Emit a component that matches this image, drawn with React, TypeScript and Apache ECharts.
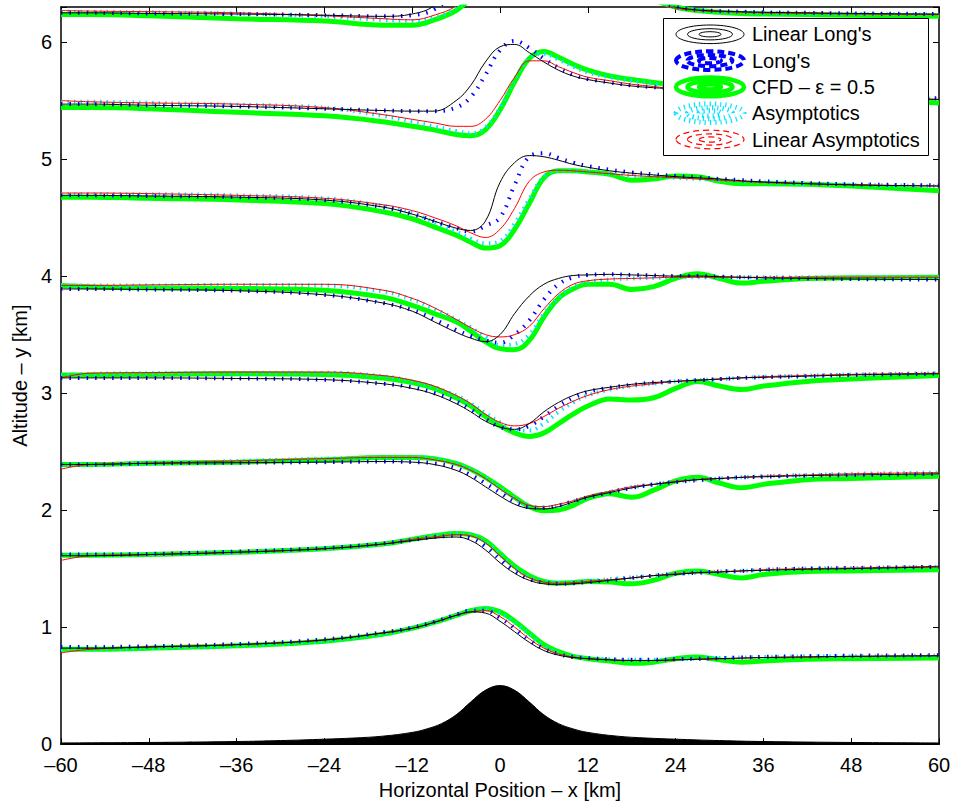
import React, { useEffect, useRef } from "react";
import * as echarts from "echarts";

// Horizontal sample positions (km) shared by all streamlines
const X = [-60, -56, -48, -36, -24, -16, -12, -9, -6, -4, -2, 0, 2, 4, 6, 8, 10, 12, 15, 18, 21, 24, 27, 30, 33, 36, 42, 48, 60];

// Linear Long's (black) — one row per streamline
const LIN_LONGS = [
  [0.82, 0.82, 0.83, 0.85, 0.89, 0.95, 0.99, 1.04, 1.10, 1.13, 1.12, 1.05, 0.96, 0.87, 0.80, 0.76, 0.74, 0.73, 0.72, 0.715, 0.715, 0.72, 0.725, 0.73, 0.735, 0.74, 0.745, 0.75, 0.755],
  [1.61, 1.61, 1.62, 1.64, 1.67, 1.71, 1.74, 1.76, 1.77, 1.74, 1.66, 1.55, 1.46, 1.40, 1.37, 1.365, 1.37, 1.38, 1.40, 1.42, 1.44, 1.45, 1.465, 1.47, 1.48, 1.485, 1.495, 1.50, 1.515],
  [2.39, 2.39, 2.40, 2.405, 2.41, 2.415, 2.41, 2.39, 2.34, 2.28, 2.20, 2.12, 2.05, 2.015, 2.01, 2.03, 2.07, 2.11, 2.15, 2.19, 2.22, 2.24, 2.26, 2.27, 2.28, 2.285, 2.295, 2.30, 2.31],
  [3.13, 3.13, 3.13, 3.125, 3.115, 3.08, 3.04, 2.99, 2.91, 2.84, 2.76, 2.71, 2.69, 2.74, 2.84, 2.92, 2.98, 3.02, 3.05, 3.075, 3.09, 3.10, 3.11, 3.12, 3.13, 3.135, 3.145, 3.155, 3.165],
  [3.89, 3.89, 3.885, 3.875, 3.84, 3.77, 3.70, 3.61, 3.52, 3.47, 3.44, 3.50, 3.68, 3.83, 3.93, 3.98, 4.005, 4.01, 4.015, 4.01, 4.005, 4.0, 4.0, 3.995, 3.99, 3.985, 3.98, 3.975, 3.97],
  [4.69, 4.69, 4.685, 4.675, 4.65, 4.59, 4.53, 4.47, 4.41, 4.39, 4.47, 4.80, 4.97, 5.03, 5.02, 4.99, 4.955, 4.93, 4.90, 4.88, 4.865, 4.85, 4.84, 4.83, 4.815, 4.805, 4.79, 4.78, 4.77],
  [5.47, 5.47, 5.46, 5.45, 5.43, 5.415, 5.41, 5.41, 5.50, 5.63, 5.83, 5.96, 5.98, 5.91, 5.83, 5.76, 5.71, 5.68, 5.65, 5.625, 5.61, 5.60, 5.59, 5.58, 5.57, 5.56, 5.545, 5.53, 5.51],
  [6.25, 6.25, 6.245, 6.24, 6.23, 6.22, 6.24, 6.31, 6.5, 6.65, 6.8, 6.9, 6.95, 6.95, 6.9, 6.85, 6.8, 6.7, 6.6, 6.48, 6.36, 6.30, 6.275, 6.265, 6.26, 6.255, 6.25, 6.245, 6.24],
];

// Long's (blue)
const LONGS = [
  [0.83, 0.83, 0.835, 0.855, 0.895, 0.955, 0.995, 1.045, 1.105, 1.14, 1.14, 1.08, 0.99, 0.89, 0.815, 0.77, 0.745, 0.735, 0.725, 0.72, 0.72, 0.725, 0.73, 0.735, 0.74, 0.745, 0.75, 0.755, 0.76],
  [1.62, 1.62, 1.625, 1.645, 1.675, 1.715, 1.745, 1.77, 1.78, 1.76, 1.69, 1.58, 1.48, 1.41, 1.38, 1.37, 1.375, 1.385, 1.40, 1.42, 1.44, 1.455, 1.465, 1.475, 1.48, 1.49, 1.50, 1.505, 1.515],
  [2.39, 2.39, 2.40, 2.405, 2.41, 2.415, 2.41, 2.40, 2.36, 2.30, 2.23, 2.15, 2.07, 2.025, 2.02, 2.04, 2.075, 2.11, 2.15, 2.19, 2.22, 2.24, 2.255, 2.27, 2.28, 2.285, 2.295, 2.30, 2.31],
  [3.13, 3.13, 3.13, 3.125, 3.115, 3.08, 3.05, 3.00, 2.93, 2.86, 2.78, 2.71, 2.69, 2.72, 2.80, 2.89, 2.96, 3.01, 3.045, 3.07, 3.09, 3.10, 3.11, 3.12, 3.13, 3.135, 3.145, 3.155, 3.165],
  [3.89, 3.89, 3.885, 3.875, 3.84, 3.77, 3.71, 3.63, 3.54, 3.49, 3.45, 3.43, 3.50, 3.62, 3.80, 3.93, 3.99, 4.01, 4.015, 4.01, 4.005, 4.0, 4.0, 3.995, 3.99, 3.985, 3.98, 3.975, 3.97],
  [4.69, 4.69, 4.685, 4.675, 4.65, 4.59, 4.53, 4.47, 4.41, 4.38, 4.43, 4.50, 4.78, 5.02, 5.05, 5.01, 4.97, 4.94, 4.91, 4.885, 4.87, 4.855, 4.845, 4.83, 4.82, 4.81, 4.795, 4.785, 4.775],
  [5.47, 5.47, 5.46, 5.45, 5.43, 5.415, 5.41, 5.41, 5.44, 5.53, 5.72, 5.93, 6.01, 5.95, 5.86, 5.78, 5.72, 5.685, 5.655, 5.63, 5.615, 5.60, 5.59, 5.58, 5.57, 5.56, 5.545, 5.535, 5.52],
  [6.25, 6.25, 6.245, 6.24, 6.23, 6.22, 6.23, 6.28, 6.45, 6.6, 6.75, 6.9, 6.95, 6.95, 6.9, 6.85, 6.8, 6.7, 6.6, 6.45, 6.36, 6.30, 6.275, 6.265, 6.26, 6.255, 6.25, 6.245, 6.24],
];

// CFD – ε = 0.5 (green)
const CFD = [
  [0.81, 0.81, 0.82, 0.84, 0.88, 0.94, 0.99, 1.04, 1.10, 1.14, 1.16, 1.13, 1.05, 0.95, 0.85, 0.79, 0.75, 0.73, 0.71, 0.69, 0.70, 0.73, 0.745, 0.72, 0.70, 0.71, 0.725, 0.73, 0.735],
  [1.615, 1.615, 1.62, 1.64, 1.67, 1.71, 1.75, 1.78, 1.80, 1.79, 1.74, 1.63, 1.52, 1.44, 1.39, 1.375, 1.38, 1.39, 1.385, 1.37, 1.40, 1.46, 1.48, 1.45, 1.42, 1.45, 1.475, 1.48, 1.49],
  [2.39, 2.39, 2.40, 2.41, 2.43, 2.45, 2.45, 2.44, 2.40, 2.35, 2.28, 2.20, 2.11, 2.03, 1.995, 2.00, 2.04, 2.10, 2.14, 2.11, 2.17, 2.25, 2.28, 2.23, 2.19, 2.22, 2.26, 2.27, 2.29],
  [3.155, 3.155, 3.16, 3.165, 3.16, 3.13, 3.09, 3.04, 2.96, 2.89, 2.80, 2.72, 2.66, 2.63, 2.66, 2.74, 2.82, 2.89, 2.95, 2.94, 2.96, 3.04, 3.10, 3.06, 3.03, 3.06, 3.10, 3.12, 3.15],
  [3.92, 3.91, 3.90, 3.895, 3.88, 3.82, 3.75, 3.68, 3.61, 3.53, 3.44, 3.38, 3.37, 3.45, 3.65, 3.81, 3.89, 3.93, 3.93, 3.885, 3.91, 3.98, 4.02, 3.98, 3.94, 3.955, 3.98, 3.985, 3.99],
  [4.675, 4.675, 4.665, 4.65, 4.62, 4.55, 4.49, 4.42, 4.35, 4.29, 4.24, 4.26, 4.40, 4.62, 4.84, 4.90, 4.90, 4.89, 4.87, 4.82, 4.83, 4.855, 4.85, 4.81, 4.79, 4.79, 4.785, 4.77, 4.73],
  [5.44, 5.44, 5.43, 5.40, 5.37, 5.32, 5.28, 5.25, 5.21, 5.20, 5.25, 5.42, 5.66, 5.86, 5.92, 5.87, 5.81, 5.76, 5.71, 5.68, 5.655, 5.635, 5.62, 5.60, 5.585, 5.57, 5.55, 5.52, 5.48],
  [6.235, 6.235, 6.225, 6.20, 6.18, 6.145, 6.145, 6.19, 6.27, 6.38, 6.55, 6.7, 6.85, 6.9, 6.9, 6.85, 6.75, 6.65, 6.55, 6.45, 6.36, 6.30, 6.27, 6.255, 6.245, 6.24, 6.235, 6.23, 6.22],
];

// Asymptotics (cyan)
const ASYM = [
  [0.81, 0.81, 0.82, 0.84, 0.88, 0.94, 0.99, 1.04, 1.10, 1.14, 1.16, 1.12, 1.04, 0.94, 0.84, 0.78, 0.75, 0.735, 0.725, 0.72, 0.72, 0.725, 0.73, 0.735, 0.74, 0.745, 0.75, 0.75, 0.755],
  [1.615, 1.615, 1.62, 1.64, 1.67, 1.71, 1.75, 1.78, 1.80, 1.79, 1.73, 1.62, 1.51, 1.43, 1.39, 1.38, 1.385, 1.395, 1.41, 1.425, 1.44, 1.455, 1.465, 1.475, 1.48, 1.49, 1.50, 1.505, 1.515],
  [2.38, 2.39, 2.40, 2.42, 2.44, 2.45, 2.45, 2.44, 2.40, 2.35, 2.28, 2.19, 2.10, 2.035, 2.02, 2.04, 2.075, 2.11, 2.155, 2.195, 2.22, 2.245, 2.26, 2.27, 2.28, 2.29, 2.30, 2.31, 2.32],
  [3.15, 3.165, 3.17, 3.175, 3.175, 3.145, 3.10, 3.05, 2.98, 2.91, 2.83, 2.75, 2.69, 2.68, 2.74, 2.84, 2.92, 2.98, 3.03, 3.06, 3.08, 3.10, 3.11, 3.12, 3.13, 3.14, 3.15, 3.16, 3.17],
  [3.92, 3.92, 3.92, 3.925, 3.92, 3.87, 3.80, 3.72, 3.63, 3.56, 3.48, 3.41, 3.42, 3.50, 3.68, 3.82, 3.91, 3.95, 3.97, 3.98, 3.985, 3.99, 3.99, 3.99, 3.99, 3.99, 3.99, 3.99, 3.99],
  [4.70, 4.70, 4.70, 4.69, 4.665, 4.60, 4.54, 4.46, 4.38, 4.32, 4.28, 4.30, 4.45, 4.66, 4.85, 4.90, 4.90, 4.89, 4.875, 4.86, 4.85, 4.84, 4.83, 4.82, 4.81, 4.80, 4.79, 4.78, 4.77],
  [5.49, 5.49, 5.48, 5.465, 5.44, 5.37, 5.32, 5.28, 5.24, 5.22, 5.27, 5.44, 5.68, 5.86, 5.90, 5.85, 5.79, 5.74, 5.70, 5.67, 5.645, 5.625, 5.61, 5.595, 5.58, 5.57, 5.55, 5.535, 5.515],
  [6.26, 6.26, 6.255, 6.245, 6.22, 6.19, 6.18, 6.21, 6.29, 6.42, 6.6, 6.75, 6.9, 6.95, 6.9, 6.85, 6.75, 6.65, 6.55, 6.45, 6.36, 6.30, 6.275, 6.26, 6.255, 6.25, 6.245, 6.24, 6.235],
];

// Linear Asymptotics (red)
const LIN_ASYM = [
  [0.78, 0.81, 0.83, 0.85, 0.89, 0.95, 0.99, 1.04, 1.10, 1.13, 1.14, 1.09, 1.00, 0.90, 0.82, 0.77, 0.745, 0.73, 0.72, 0.715, 0.715, 0.72, 0.725, 0.73, 0.735, 0.74, 0.745, 0.75, 0.755],
  [1.57, 1.61, 1.62, 1.64, 1.67, 1.71, 1.75, 1.77, 1.79, 1.78, 1.72, 1.61, 1.50, 1.42, 1.385, 1.375, 1.38, 1.39, 1.405, 1.42, 1.44, 1.455, 1.465, 1.475, 1.48, 1.49, 1.50, 1.505, 1.52],
  [2.35, 2.39, 2.40, 2.42, 2.44, 2.45, 2.45, 2.43, 2.39, 2.34, 2.27, 2.18, 2.10, 2.04, 2.03, 2.05, 2.08, 2.12, 2.16, 2.20, 2.22, 2.245, 2.26, 2.27, 2.28, 2.29, 2.30, 2.31, 2.32],
  [3.13, 3.17, 3.175, 3.18, 3.18, 3.15, 3.11, 3.06, 2.98, 2.91, 2.82, 2.75, 2.72, 2.74, 2.80, 2.87, 2.93, 2.98, 3.03, 3.06, 3.08, 3.10, 3.11, 3.12, 3.13, 3.14, 3.15, 3.16, 3.17],
  [3.92, 3.92, 3.925, 3.93, 3.93, 3.88, 3.81, 3.73, 3.63, 3.56, 3.50, 3.48, 3.50, 3.57, 3.72, 3.85, 3.93, 3.96, 3.975, 3.98, 3.985, 3.99, 3.99, 3.99, 3.99, 3.99, 3.99, 3.99, 3.99],
  [4.71, 4.71, 4.705, 4.69, 4.665, 4.61, 4.56, 4.50, 4.43, 4.37, 4.33, 4.40, 4.58, 4.81, 4.89, 4.905, 4.90, 4.89, 4.875, 4.86, 4.85, 4.84, 4.83, 4.82, 4.81, 4.80, 4.79, 4.78, 4.77],
  [5.50, 5.49, 5.48, 5.47, 5.44, 5.38, 5.34, 5.31, 5.28, 5.28, 5.34, 5.50, 5.70, 5.84, 5.84, 5.79, 5.74, 5.70, 5.67, 5.64, 5.62, 5.60, 5.59, 5.58, 5.57, 5.56, 5.545, 5.53, 5.51],
  [6.27, 6.265, 6.26, 6.25, 6.225, 6.20, 6.19, 6.23, 6.31, 6.45, 6.6, 6.75, 6.9, 6.9, 6.85, 6.8, 6.7, 6.6, 6.5, 6.4, 6.33, 6.29, 6.27, 6.26, 6.255, 6.25, 6.245, 6.24, 6.235],
];

// Terrain (mountain) profile
const TERRAIN_X = [-60, -48, -36, -30, -24, -20, -16, -12, -10, -8, -6, -4, -2, 0, 2, 4, 6, 8, 10, 12, 16, 20, 24, 30, 36, 48, 60];
const TERRAIN_H = [0.01, 0.014, 0.022, 0.03, 0.042, 0.052, 0.068, 0.1, 0.13, 0.175, 0.25, 0.36, 0.46, 0.5, 0.46, 0.36, 0.25, 0.175, 0.13, 0.1, 0.068, 0.052, 0.042, 0.03, 0.022, 0.014, 0.01];

const LEGEND_LABELS = ["Linear Long's", "Long's", "CFD – ε = 0.5", "Asymptotics", "Linear Asymptotics"];

const FONT = "'Liberation Sans', Arial, Helvetica, sans-serif";

export default function App() {
  const ref = useRef<HTMLDivElement>(null);

  useEffect(() => {
    const chart = echarts.init(ref.current!, null, { renderer: "svg" });
    const pts = (ys: number[]) => X.map((x, i) => [x, ys[i]]);

    const kinds = [
      { name: LEGEND_LABELS[2], rows: CFD, lineStyle: { color: "#00ff00", width: 5 }, z: 3 },
      { name: LEGEND_LABELS[3], rows: ASYM, lineStyle: { color: "#00e5ff", width: 4, type: [1.5, 5] }, z: 4 },
      { name: LEGEND_LABELS[1], rows: LONGS, lineStyle: { color: "#0000ff", width: 4, type: [1.5, 7] }, z: 5 },
      { name: LEGEND_LABELS[4], rows: LIN_ASYM, lineStyle: { color: "#ff0000", width: 1 }, z: 6 },
      { name: LEGEND_LABELS[0], rows: LIN_LONGS, lineStyle: { color: "#000000", width: 1 }, z: 7 },
    ];

    const series: any[] = [
      {
        type: "line",
        name: "Terrain",
        data: TERRAIN_X.map((x, i) => [x, TERRAIN_H[i]]),
        smooth: 0.4,
        symbol: "none",
        lineStyle: { color: "#000", width: 1 },
        areaStyle: { color: "#000", opacity: 1 },
        z: 2,
        silent: true,
      },
    ];
    kinds.forEach((k) => {
      k.rows.forEach((row) => {
        series.push({
          type: "line",
          name: k.name,
          data: pts(row),
          smooth: 0.4,
          symbol: "none",
          lineStyle: k.lineStyle,
          z: k.z,
          clip: true,
          silent: true,
        });
      });
    });

    const axisLineStyle = { color: "#000", width: 1.5 };
    const labelStyle = { color: "#000", fontSize: 20, fontFamily: FONT };

    // Legend drawn as graphic (MATLAB contour-style icons)
    const rowsY = [34.3, 60.6, 86.9, 113.2, 139.5];
    const iconStyles = [
      { stroke: "#000000", lineWidth: 1 },
      { stroke: "#0000ff", lineWidth: 4, lineDash: [7, 4] },
      { stroke: "#00ff00", lineWidth: 4.5 },
      { stroke: "#00e5ff", lineWidth: 5, lineDash: [1.2, 4] },
      { stroke: "#ff0000", lineWidth: 1.2, lineDash: [6, 4] },
    ];
    const radii = [
      [34, 9.3],
      [22.5, 5.6],
      [11, 2.6],
    ];
    const LZ = 1000;
    const legendElements: any[] = [
      {
        type: "rect",
        z: LZ,
        silent: true,
        shape: { x: 663.5, y: 18.5, width: 265, height: 137 },
        style: { fill: "#fff", stroke: "#000", lineWidth: 1 },
      },
    ];
    rowsY.forEach((cy, i) => {
      radii.forEach(([rx, ry]) => {
        legendElements.push({
          type: "ellipse",
          z: LZ + 1,
          silent: true,
          shape: { cx: 710, cy, rx, ry },
          style: { fill: "none", ...iconStyles[i] },
        });
      });
      legendElements.push({
        type: "text",
        z: LZ + 2,
        silent: true,
        x: 752,
        y: cy,
        style: {
          text: LEGEND_LABELS[i],
          fill: "#000",
          fontSize: 20,
          fontFamily: FONT,
          verticalAlign: "middle",
          align: "left",
        },
      });
    });

    chart.setOption({
      animation: false,
      backgroundColor: "#fff",
      grid: { left: 61, right: 16, top: 7, bottom: 59, containLabel: false },
      xAxis: [
        {
          type: "value",
          min: -60,
          max: 60,
          interval: 12,
          position: "bottom",
          name: "Horizontal Position – x [km]",
          nameLocation: "middle",
          nameGap: 31,
          nameTextStyle: { ...labelStyle },
          axisLine: { show: true, onZero: false, lineStyle: { ...axisLineStyle, width: 2 } },
          axisTick: { show: true, inside: true, length: 6, lineStyle: { color: "#000" } },
          axisLabel: {
            ...labelStyle,
            margin: 11,
            formatter: (v: number) => String(v).replace("-", "–"),
          },
          splitLine: { show: false },
        },
        {
          type: "value",
          min: -60,
          max: 60,
          interval: 12,
          position: "top",
          axisLine: { show: true, onZero: false, lineStyle: axisLineStyle },
          axisTick: { show: true, inside: true, length: 6, lineStyle: { color: "#000" } },
          axisLabel: { show: false },
          splitLine: { show: false },
        },
      ],
      yAxis: [
        {
          type: "value",
          min: 0,
          max: 6.3,
          interval: 1,
          position: "left",
          name: "Altitude – y [km]",
          nameLocation: "middle",
          nameGap: 25,
          nameRotate: 90,
          nameTextStyle: { ...labelStyle },
          axisLine: { show: true, onZero: false, lineStyle: axisLineStyle },
          axisTick: { show: true, inside: true, length: 6, lineStyle: { color: "#000" } },
          axisLabel: {
            ...labelStyle,
            margin: 9,
            formatter: (v: number) => (Math.abs(v - Math.round(v)) < 1e-9 ? String(Math.round(v)) : ""),
          },
          splitLine: { show: false },
        },
        {
          type: "value",
          min: 0,
          max: 6.3,
          interval: 1,
          position: "right",
          axisLine: { show: true, onZero: false, lineStyle: axisLineStyle },
          axisTick: { show: true, inside: true, length: 6, lineStyle: { color: "#000" } },
          axisLabel: { show: false },
          splitLine: { show: false },
        },
      ],
      series,
      graphic: legendElements,
    });

    return () => {
      chart.dispose();
    };
  }, []);

  return (
    <div
      ref={ref}
      style={{ position: "fixed", left: 0, top: 0, width: 955, height: 805, background: "#fff" }}
    />
  );
}
